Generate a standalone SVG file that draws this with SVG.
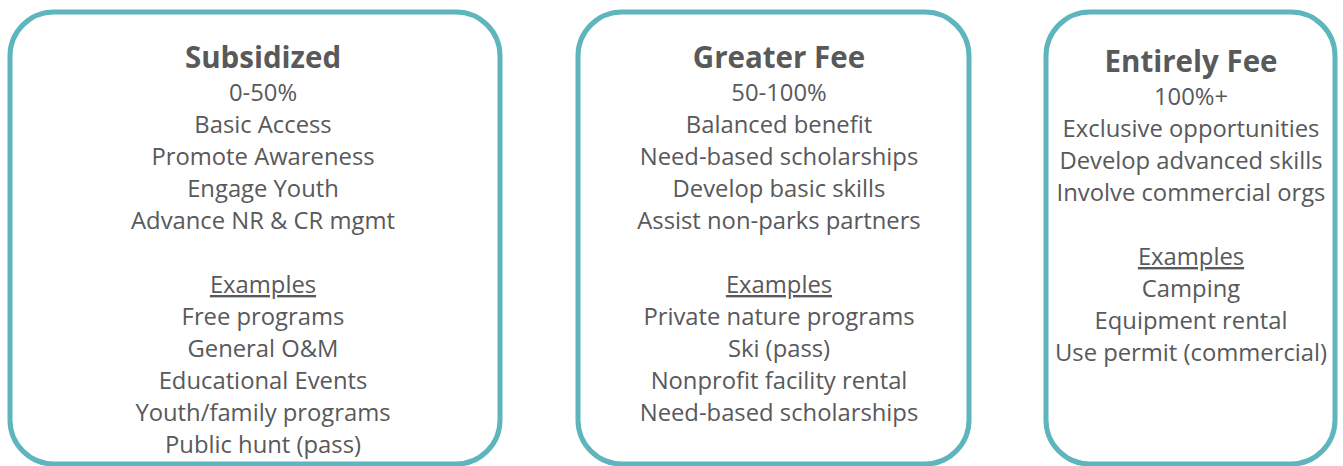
<svg xmlns="http://www.w3.org/2000/svg" width="1343" height="466" viewBox="0 0 1343 466">
  <style>
    .box { fill: #ffffff; stroke: #5fb5bd; stroke-width: 5; }
    text { font-family: "Open Sans", "Liberation Sans", sans-serif; fill: #58595b; text-anchor: middle; font-size: 23.8px; }
    .title { font-weight: bold; font-size: 29.5px; }
    .ul { text-decoration: underline; }
  </style>
  <rect width="1343" height="466" fill="#ffffff"/>

  <g id="subsidized">
    <rect class="box" x="10" y="12" width="490" height="452" rx="44" ry="44"/>
    <text class="title" x="263" y="68">Subsidized</text>
    <text x="263" y="101">0-50%</text>
    <text x="263" y="133">Basic Access</text>
    <text x="263" y="165">Promote Awareness</text>
    <text x="263" y="197">Engage Youth</text>
    <text x="263" y="229">Advance NR &amp; CR mgmt</text>
    <text class="ul" x="263" y="293">Examples</text>
    <text x="263" y="325">Free programs</text>
    <text x="263" y="357">General O&amp;M</text>
    <text x="263" y="389">Educational Events</text>
    <text x="263" y="421">Youth/family programs</text>
    <text x="263" y="453">Public hunt (pass)</text>
  </g>

  <g id="greater-fee">
    <rect class="box" x="578" y="12" width="391" height="452" rx="44" ry="44"/>
    <text class="title" x="779" y="68">Greater Fee</text>
    <text x="779" y="101">50-100%</text>
    <text x="779" y="133">Balanced benefit</text>
    <text x="779" y="165">Need-based scholarships</text>
    <text x="779" y="197">Develop basic skills</text>
    <text x="779" y="229">Assist non-parks partners</text>
    <text class="ul" x="779" y="293">Examples</text>
    <text x="779" y="325">Private nature programs</text>
    <text x="779" y="357">Ski (pass)</text>
    <text x="779" y="389">Nonprofit facility rental</text>
    <text x="779" y="421">Need-based scholarships</text>
  </g>

  <g id="entirely-fee">
    <rect class="box" x="1046" y="12" width="289" height="452" rx="44" ry="44"/>
    <text class="title" x="1191" y="72">Entirely Fee</text>
    <text x="1191" y="105">100%+</text>
    <text x="1191" y="137">Exclusive opportunities</text>
    <text x="1191" y="169">Develop advanced skills</text>
    <text x="1191" y="201">Involve commercial orgs</text>
    <text class="ul" x="1191" y="265">Examples</text>
    <text x="1191" y="297">Camping</text>
    <text x="1191" y="329">Equipment rental</text>
    <text x="1191" y="361">Use permit (commercial)</text>
  </g>

  <g id="connectors"/>
</svg>
